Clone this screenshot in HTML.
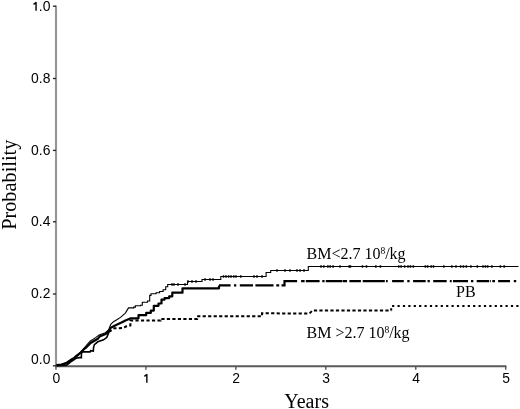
<!DOCTYPE html>
<html><head><meta charset="utf-8"><style>
html,body{margin:0;padding:0;background:#fff;}
body{width:520px;height:409px;overflow:hidden;position:relative;}
svg{position:absolute;left:0;top:0;will-change:transform;}
.n{font-family:"Liberation Sans",sans-serif;font-size:13.9px;fill:#000;}
.t{font-family:"Liberation Serif",serif;font-size:21px;fill:#000;}
.l{font-family:"Liberation Serif",serif;font-size:16px;fill:#000;}
.s{font-size:9.5px;}
</style></head><body>
<svg width="520" height="409" viewBox="0 0 520 409">
<line x1="56" y1="5.5" x2="56" y2="366.5" stroke="#959595" stroke-width="2.1"/>
<line x1="55.3" y1="366.2" x2="506.4" y2="366.2" stroke="#5a5a5a" stroke-width="1.9"/>
<line x1="52.9" y1="6.2" x2="56" y2="6.2" stroke="#222" stroke-width="1.3"/>
<text x="50.4" y="10.8" text-anchor="end" class="n">.0</text>
<path d="M36.05 10.70V1.90M36.35 2.30L33.55 4.40" stroke="#000" stroke-width="1.4" fill="none"/>
<line x1="52.9" y1="78.5" x2="56" y2="78.5" stroke="#222" stroke-width="1.3"/>
<text x="50.4" y="82.8" text-anchor="end" class="n">0.8</text>
<line x1="52.9" y1="150.4" x2="56" y2="150.4" stroke="#222" stroke-width="1.3"/>
<text x="50.4" y="154.8" text-anchor="end" class="n">0.6</text>
<line x1="52.9" y1="221.8" x2="56" y2="221.8" stroke="#222" stroke-width="1.3"/>
<text x="50.4" y="225.9" text-anchor="end" class="n">0.4</text>
<line x1="52.9" y1="294" x2="56" y2="294" stroke="#222" stroke-width="1.3"/>
<text x="50.4" y="297.8" text-anchor="end" class="n">0.2</text>
<line x1="52.9" y1="365.8" x2="56" y2="365.8" stroke="#222" stroke-width="1.3"/>
<text x="50.4" y="363.8" text-anchor="end" class="n">0.0</text>
<line x1="55.95" y1="366" x2="55.95" y2="369.8" stroke="#555" stroke-width="1.4"/>
<text x="56.25" y="383" text-anchor="middle" class="n">0</text>
<line x1="145.90" y1="366" x2="145.90" y2="369.8" stroke="#555" stroke-width="1.4"/>
<path d="M146.85 382.70V373.90M147.15 374.30L144.35 376.40" stroke="#000" stroke-width="1.4" fill="none"/>
<line x1="235.85" y1="366" x2="235.85" y2="369.8" stroke="#555" stroke-width="1.4"/>
<text x="236.15" y="383" text-anchor="middle" class="n">2</text>
<line x1="325.80" y1="366" x2="325.80" y2="369.8" stroke="#555" stroke-width="1.4"/>
<text x="326.10" y="383" text-anchor="middle" class="n">3</text>
<line x1="415.75" y1="366" x2="415.75" y2="369.8" stroke="#555" stroke-width="1.4"/>
<text x="416.05" y="383" text-anchor="middle" class="n">4</text>
<line x1="505.70" y1="366" x2="505.70" y2="369.8" stroke="#555" stroke-width="1.4"/>
<text x="506.00" y="383" text-anchor="middle" class="n">5</text>
<polyline points="56.5,364.5 61.5,364.0 66.5,362.3 70.5,359.5 74.0,357.4 76.0,355.5 79.0,353.4 80.7,351.8 84.3,347.8 90.1,341.2 95.6,337.6 99.1,334.9 105.4,332.7 108.0,330.5 108.8,329.2 110.8,324.4 113.5,321.7 117.2,319.5 120.5,317.4 124.8,313.6 125.5,312.8 128.5,307.9 133.7,307.9 133.7,307.1 135.4,307.1 135.4,305.8 140.6,305.8 140.6,305.3 142.3,305.3 142.3,302.3 147.5,302.3 147.5,301.0 149.7,301.0 149.7,295.4 151.0,295.4 151.0,293.7 156.1,293.7 156.1,292.8 159.6,292.8 159.6,291.5 163.1,291.5 163.1,289.8 165.7,289.8 165.7,286.7 167.7,286.7 167.7,284.5 187.5,284.5 187.5,281.5 202.0,281.5 202.0,279.5 220.8,279.5 220.8,276.5 266.1,276.5 266.1,272.5 270.7,272.5 270.7,270.5 308.3,270.5 308.3,266.5 518.5,266.5" fill="none" stroke="#000" stroke-width="1.1"/>
<rect x="171.1" y="283.2" width="1.8" height="2.5" rx="0.6" fill="#000"/>
<rect x="173.1" y="283.2" width="1.8" height="2.5" rx="0.6" fill="#000"/>
<rect x="177.1" y="283.2" width="1.8" height="2.5" rx="0.6" fill="#000"/>
<rect x="184.1" y="283.2" width="1.8" height="2.5" rx="0.6" fill="#000"/>
<rect x="187.1" y="280.2" width="1.8" height="2.5" rx="0.6" fill="#000"/>
<rect x="191.1" y="280.2" width="1.8" height="2.5" rx="0.6" fill="#000"/>
<rect x="195.1" y="280.2" width="1.8" height="2.5" rx="0.6" fill="#000"/>
<rect x="204.1" y="278.2" width="1.8" height="2.5" rx="0.6" fill="#000"/>
<rect x="209.1" y="278.2" width="1.8" height="2.5" rx="0.6" fill="#000"/>
<rect x="212.1" y="278.2" width="1.8" height="2.5" rx="0.6" fill="#000"/>
<rect x="222.6" y="275.2" width="1.8" height="2.5" rx="0.6" fill="#000"/>
<rect x="225.1" y="275.2" width="1.8" height="2.5" rx="0.6" fill="#000"/>
<rect x="227.7" y="275.2" width="1.8" height="2.5" rx="0.6" fill="#000"/>
<rect x="230.1" y="275.2" width="1.8" height="2.5" rx="0.6" fill="#000"/>
<rect x="232.9" y="275.2" width="1.8" height="2.5" rx="0.6" fill="#000"/>
<rect x="235.1" y="275.2" width="1.8" height="2.5" rx="0.6" fill="#000"/>
<rect x="239.9" y="275.2" width="1.8" height="2.5" rx="0.6" fill="#000"/>
<rect x="253.1" y="275.2" width="1.8" height="2.5" rx="0.6" fill="#000"/>
<rect x="256.1" y="275.2" width="1.8" height="2.5" rx="0.6" fill="#000"/>
<rect x="261.1" y="275.2" width="1.8" height="2.5" rx="0.6" fill="#000"/>
<rect x="276.1" y="269.2" width="1.8" height="2.5" rx="0.6" fill="#000"/>
<rect x="284.1" y="269.2" width="1.8" height="2.5" rx="0.6" fill="#000"/>
<rect x="289.1" y="269.2" width="1.8" height="2.5" rx="0.6" fill="#000"/>
<rect x="296.1" y="269.2" width="1.8" height="2.5" rx="0.6" fill="#000"/>
<rect x="299.1" y="269.2" width="1.8" height="2.5" rx="0.6" fill="#000"/>
<rect x="303.1" y="269.2" width="1.8" height="2.5" rx="0.6" fill="#000"/>
<rect x="320.1" y="265.2" width="1.8" height="2.5" rx="0.6" fill="#000"/>
<rect x="322.9" y="265.2" width="1.8" height="2.5" rx="0.6" fill="#000"/>
<rect x="327.0" y="265.2" width="1.8" height="2.5" rx="0.6" fill="#000"/>
<rect x="329.3" y="265.2" width="1.8" height="2.5" rx="0.6" fill="#000"/>
<rect x="332.2" y="265.2" width="1.8" height="2.5" rx="0.6" fill="#000"/>
<rect x="339.1" y="265.2" width="1.8" height="2.5" rx="0.6" fill="#000"/>
<rect x="348.3" y="265.2" width="1.8" height="2.5" rx="0.6" fill="#000"/>
<rect x="349.5" y="265.2" width="1.8" height="2.5" rx="0.6" fill="#000"/>
<rect x="361.6" y="265.2" width="1.8" height="2.5" rx="0.6" fill="#000"/>
<rect x="365.6" y="265.2" width="1.8" height="2.5" rx="0.6" fill="#000"/>
<rect x="374.9" y="265.2" width="1.8" height="2.5" rx="0.6" fill="#000"/>
<rect x="379.5" y="265.2" width="1.8" height="2.5" rx="0.6" fill="#000"/>
<rect x="397.9" y="265.2" width="1.8" height="2.5" rx="0.6" fill="#000"/>
<rect x="400.2" y="265.2" width="1.8" height="2.5" rx="0.6" fill="#000"/>
<rect x="403.7" y="265.2" width="1.8" height="2.5" rx="0.6" fill="#000"/>
<rect x="407.1" y="265.2" width="1.8" height="2.5" rx="0.6" fill="#000"/>
<rect x="409.5" y="265.2" width="1.8" height="2.5" rx="0.6" fill="#000"/>
<rect x="412.4" y="265.2" width="1.8" height="2.5" rx="0.6" fill="#000"/>
<rect x="424.5" y="265.2" width="1.8" height="2.5" rx="0.6" fill="#000"/>
<rect x="426.8" y="265.2" width="1.8" height="2.5" rx="0.6" fill="#000"/>
<rect x="430.3" y="265.2" width="1.8" height="2.5" rx="0.6" fill="#000"/>
<rect x="432.6" y="265.2" width="1.8" height="2.5" rx="0.6" fill="#000"/>
<rect x="442.9" y="265.2" width="1.8" height="2.5" rx="0.6" fill="#000"/>
<rect x="451.0" y="265.2" width="1.8" height="2.5" rx="0.6" fill="#000"/>
<rect x="455.1" y="265.2" width="1.8" height="2.5" rx="0.6" fill="#000"/>
<rect x="459.7" y="265.2" width="1.8" height="2.5" rx="0.6" fill="#000"/>
<rect x="462.5" y="265.2" width="1.8" height="2.5" rx="0.6" fill="#000"/>
<rect x="465.4" y="265.2" width="1.8" height="2.5" rx="0.6" fill="#000"/>
<rect x="470.0" y="265.2" width="1.8" height="2.5" rx="0.6" fill="#000"/>
<rect x="476.4" y="265.2" width="1.8" height="2.5" rx="0.6" fill="#000"/>
<rect x="482.1" y="265.2" width="1.8" height="2.5" rx="0.6" fill="#000"/>
<rect x="484.5" y="265.2" width="1.8" height="2.5" rx="0.6" fill="#000"/>
<rect x="486.8" y="265.2" width="1.8" height="2.5" rx="0.6" fill="#000"/>
<rect x="491.0" y="265.2" width="1.8" height="2.5" rx="0.6" fill="#000"/>
<rect x="499.5" y="265.2" width="1.8" height="2.5" rx="0.6" fill="#000"/>
<rect x="503.3" y="265.2" width="1.8" height="2.5" rx="0.6" fill="#000"/>
<polyline points="56.5,365.2 61.5,364.8 66.5,363.5 70.5,360.6 74.0,358.4 77.0,356.0 80.7,352.5 84.3,349.0 86.4,347.3 90.1,343.4 92.7,341.8 97.8,338.8 99.6,336.6 105.0,334.2 107.0,333.0 109.2,330.5 110.8,327.8 116.1,325.0 121.5,322.6 126.0,320.3 130.8,318.3 138.5,318.3 138.5,315.2 146.2,315.2 146.2,312.9 150.8,312.9 150.8,310.6 153.8,310.6 153.8,305.8 158.5,305.8 158.5,303.5 161.5,303.5 161.5,299.6 164.6,299.6 164.6,298.1 169.2,298.1 169.2,296.3 172.3,296.3 172.3,292.7 182.5,292.7 182.5,288.3 219.0,288.3 219.0,285.4" fill="none" stroke="#000" stroke-width="2.2" stroke-linejoin="round"/>
<path d="M219 285.3H230.6M234 285.3H236.3M239.8 285.3H253M255.4 285.3H273.5M276.3 285.3H279.2M281.5 285.3H284.5V281.2H297.1M301.1 281.2H304.6M305.8 281.2H319.6M322.3 281.2H324.6M325.8 281.2H342.5M343 281.2H347.1M349.4 281.2H360.9M362.7 281.2H384.8M386 281.2H387.7M392.1 281.2H403.8M407.3 281.2H409.6M413.1 281.2H425.7M427.5 281.2H429.8M433.2 281.2H446.7M449.8 281.2H451.7M453 281.2H468M471 281.2H473.3M476.7 281.2H489.2M490 281.2H490.8M492.3 281.2H495M498.1 281.2H510M513.8 281.2H516.2" fill="none" stroke="#000" stroke-width="2.2"/>
<polyline points="56.5,365.7 66.5,365.3 69.0,363.4 72.0,361.0 76.0,358.3 79.2,357.6 81.4,357.6 81.4,353.0 83.1,351.8 90.1,351.9 90.6,350.6 93.3,351.0 93.6,347.3 94.4,344.6 97.8,341.8 103.5,339.8 106.7,337.6 109.0,332.0" fill="none" stroke="#000" stroke-width="1.6"/>
<polyline points="109.0,332.0 114.2,328.3 123.5,328.0 125.8,326.5 130.4,325.4 130.4,320.6 160.6,320.6 160.6,319.0 197.1,319.0 197.1,316.3 262.0,316.3 262.0,313.3 309.5,313.5 312.5,310.5 391.2,310.5" fill="none" stroke="#000" stroke-width="2" stroke-dasharray="3.2,2.3"/>
<polyline points="391.2,310.5 391.2,306.0 518.5,306.0" fill="none" stroke="#000" stroke-width="2" stroke-dasharray="2.2,3.2"/>
<text x="284.3" y="407.6" class="t" style="font-size:20px">Years</text>
<text transform="translate(16.1,229.8) rotate(-90)" class="t" style="font-size:20.3px">Probability</text>
<text x="306.5" y="258.6" class="l">BM&lt;2.7 10<tspan class="s" dy="-5">8</tspan><tspan dy="5">/kg</tspan></text>
<text x="456" y="296.6" class="l">PB</text>
<text x="306.5" y="337.6" class="l">BM &gt;2.7 10<tspan class="s" dy="-5">8</tspan><tspan dy="5">/kg</tspan></text>
</svg>
</body></html>
